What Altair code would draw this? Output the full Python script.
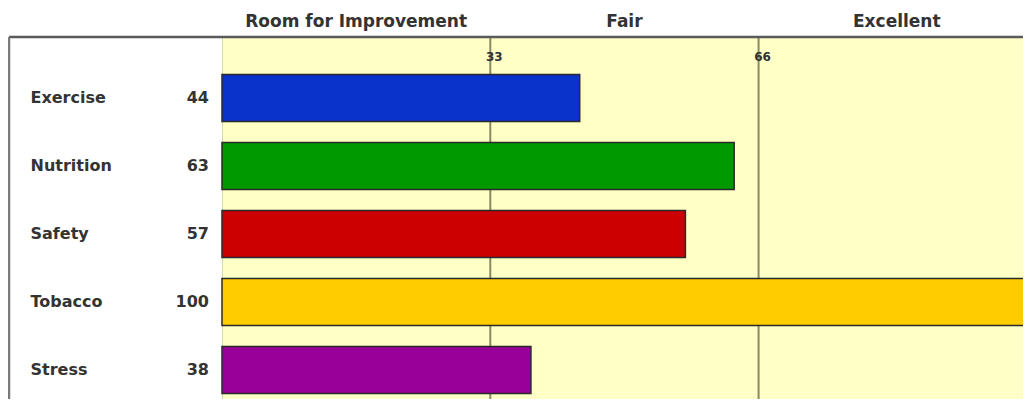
import altair as alt
import pandas as pd

# ---- data ----
categories = ["Exercise", "Nutrition", "Safety", "Tobacco", "Stress"]
scores = [44, 63, 57, 100, 38]
bar_colors = ["#0a33cc", "#009900", "#cc0000", "#ffcc00", "#990099"]
zone_names = ["Room for Improvement", "Fair", "Excellent"]
zone_start = [0, 33, 66]
zone_end = [33, 66, 100]
thresholds = [33, 66]

bars_df = pd.DataFrame({"category": categories, "score": scores, "color": bar_colors})
zones_df = pd.DataFrame({"zone": zone_names, "start": zone_start, "end": zone_end})
thr_df = pd.DataFrame({"t": thresholds, "label": [str(t) for t in thresholds]})
one_df = pd.DataFrame({"k": [0]})

W, H = 813, 370
PAD_L, PAD_T = 214, 29
SVG_W, SVG_H = 1015, 391
FONT = "DejaVu Sans"
TXT = "#333333"

x_scale = alt.Scale(domain=[0, 100], nice=False, zero=True)
y_scale = alt.Scale(domain=categories, paddingInner=0.31, paddingOuter=0.375, align=0.735)

y_enc = alt.Y(
    "category:N",
    scale=y_scale,
    sort=categories,
    axis=alt.Axis(
        title=None, labelAlign="left", labelPadding=192, ticks=False, tickSize=0,
        domain=False, labelFont=FONT, labelFontSize=16, labelFontWeight="bold",
        labelColor=TXT, labelBaseline="middle",
    ),
)

grid = alt.Chart(thr_df).mark_rule(color="#8a8a66", strokeWidth=2).encode(
    x=alt.X("t:Q", scale=x_scale, axis=None)
)

bars = alt.Chart(bars_df).mark_bar(stroke="#2a2a2a", strokeWidth=1.5).encode(
    x=alt.X("score:Q", scale=x_scale, axis=None),
    y=y_enc,
    color=alt.Color("color:N", scale=None),
)

values = alt.Chart(bars_df).mark_text(
    align="right", baseline="middle", font=FONT, fontSize=16, fontWeight="bold", color=TXT
).encode(
    y=alt.Y("category:N", scale=y_scale, sort=categories),
    x=alt.value(-13),
    text="score:Q",
)

thr_labels = alt.Chart(thr_df).mark_text(
    align="center", baseline="middle", dx=4, font=FONT, fontSize=12, fontWeight="bold", color=TXT
).encode(
    x=alt.X("t:Q", scale=x_scale, axis=None),
    y=alt.value(20),
    text="label:N",
)

headers = alt.Chart(zones_df).transform_calculate(
    mid="(datum.start + datum.end) / 2"
).mark_text(
    align="center", baseline="alphabetic", font=FONT, fontSize=17, fontWeight="bold", color=TXT
).encode(
    x=alt.X("mid:Q", scale=x_scale, axis=None),
    y=alt.value(-10),
    text="zone:N",
)

frame_top = alt.Chart(one_df).mark_rule(color="#5a5a5a", strokeWidth=2.5).encode(
    x=alt.value(-213), x2=alt.value(W), y=alt.value(0)
)
frame_left = alt.Chart(one_df).mark_rule(color="#7a7a7a", strokeWidth=2.5).encode(
    x=alt.value(-213), y=alt.value(0), y2=alt.value(H)
)

chart = alt.layer(
    grid, bars, values, thr_labels, headers, frame_top, frame_left
).properties(
    width=W, height=H,
    autosize=alt.AutoSizeParams(type="none"),
    padding={"left": PAD_L, "top": PAD_T,
             "right": SVG_W - PAD_L - W, "bottom": SVG_H - PAD_T - H},
    background="white",
).configure_view(
    fill="#ffffc6", stroke="#d5d9a8", strokeWidth=1
)

chart.save("out.html", embed_options={"renderer": "svg", "actions": False})
